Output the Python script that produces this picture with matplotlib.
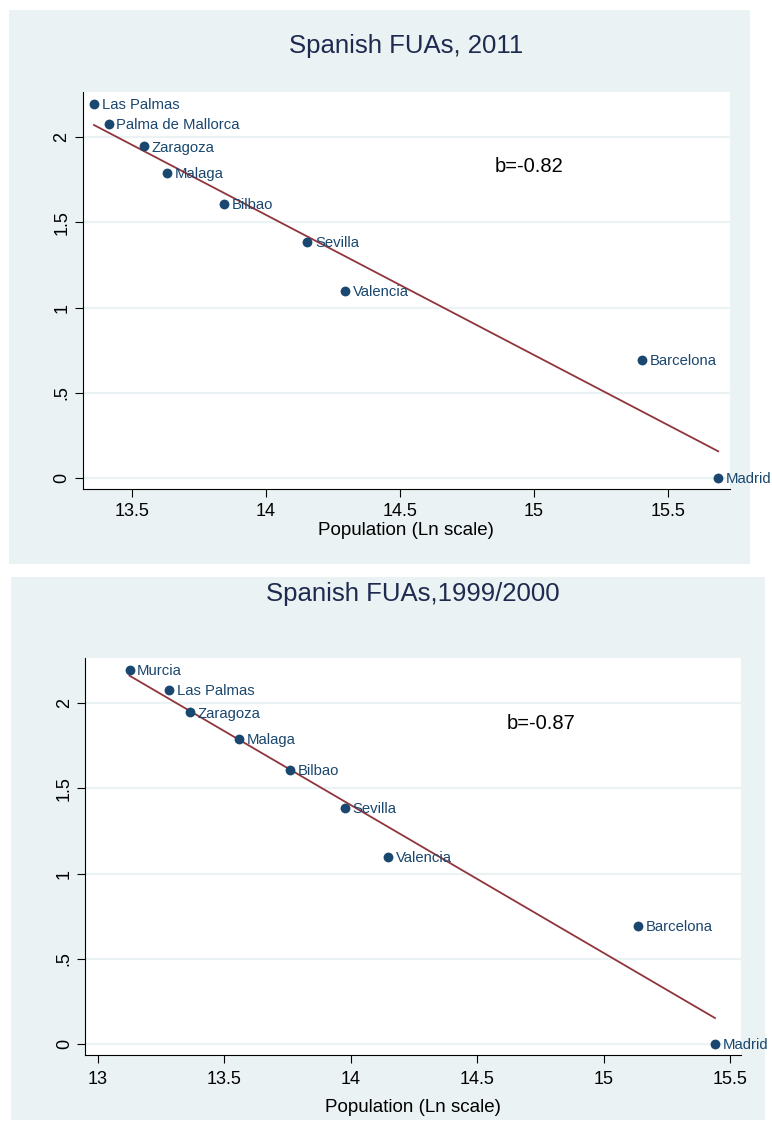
import matplotlib.pyplot as plt
import numpy as np
from matplotlib.patches import Rectangle

plt.rcParams['font.family'] = ['Liberation Sans', 'DejaVu Sans']

# 2011 data
cities_2011 = ["Madrid", "Barcelona", "Valencia", "Sevilla", "Bilbao",
               "Malaga", "Zaragoza", "Palma de Mallorca", "Las Palmas"]
lnpop_2011 = [15.687, 15.403, 14.295, 14.154, 13.843, 13.632, 13.545, 13.413, 13.358]
lnrank_2011 = [0.0, 0.693, 1.099, 1.386, 1.609, 1.792, 1.946, 2.079, 2.197]

# 1999/2000 data
cities_2000 = ["Madrid", "Barcelona", "Valencia", "Sevilla", "Bilbao",
               "Malaga", "Zaragoza", "Las Palmas", "Murcia"]
lnpop_2000 = [15.44, 15.136, 14.148, 13.978, 13.761, 13.559, 13.366, 13.283, 13.126]
lnrank_2000 = [0.0, 0.693, 1.099, 1.386, 1.609, 1.792, 1.946, 2.079, 2.197]

titles = ["Spanish FUAs, 2011", "Spanish FUAs,1999/2000"]
slopes = ["b=-0.82", "b=-0.87"]

W, H = 772, 1124
BG = "#eaf2f3"
NAVY = "#1a476f"
FIT = "#90353b"
TITLE_C = "#1e2a4f"

fig = plt.figure(figsize=(W / 100, H / 100), dpi=100, facecolor="white")


def px_box(x0, y0, x1, y1):
    # pixel box (from top-left) -> figure fraction
    return [x0 / W, 1 - y1 / H, (x1 - x0) / W, (y1 - y0) / H]


def panel(bg_box, ax_box, title, title_y, x, y, names, stat, stat_xy,
          xlim, xticks, xticklabels, tick_pad, label_pad):
    b = px_box(*bg_box)
    fig.patches.append(Rectangle((b[0], b[1]), b[2], b[3], transform=fig.transFigure,
                                 facecolor=BG, edgecolor="none", zorder=-5))
    ax = fig.add_axes(px_box(*ax_box))
    ax.set_facecolor("white")
    ax.set_xlim(*xlim)
    ax.set_ylim(-0.064, 2.265)

    # fitted line
    x = np.array(x)
    y = np.array(y)
    k, c = np.polyfit(x, y, 1)
    xs = np.array([x.min(), x.max()])
    ax.plot(xs, k * xs + c, color=FIT, lw=1.3, zorder=2)

    ax.scatter(x, y, s=50, color=NAVY, zorder=3, linewidths=0)
    for xi, yi, n in zip(x, y, names):
        ax.annotate(n, (xi, yi), xytext=(5.5, -1), textcoords="offset points",
                    va="center", ha="left", fontsize=10.7, color=NAVY,
                    annotation_clip=False)

    ax.text(stat_xy[0], stat_xy[1], stat, fontsize=14.5, color="black",
            ha="center", va="center")

    ax.set_yticks([0, 0.5, 1, 1.5, 2])
    ax.set_yticklabels(["0", ".5", "1", "1.5", "2"], rotation=90, va="center")
    ax.set_xticks(xticks)
    ax.set_xticklabels(xticklabels)
    ax.tick_params(labelsize=13, length=5.8, width=0.8)
    ax.tick_params(axis="x", pad=tick_pad)
    ax.tick_params(axis="y", pad=3)
    ax.grid(axis="y", color=BG, lw=1.6)
    ax.set_axisbelow(True)
    for s in ["top", "right"]:
        ax.spines[s].set_visible(False)
    ax.set_xlabel("Population (Ln scale)", fontsize=13.5, labelpad=label_pad)

    fig.text((ax_box[0] + ax_box[2]) / 2 / W + 0.0, 1 - title_y / H, title,
             fontsize=18.5, color=TITLE_C, ha="center", va="center")
    return ax


panel((9, 10, 750, 564), (82.7, 92, 730, 489), titles[0], 46,
      lnpop_2011, lnrank_2011, cities_2011, slopes[0], (14.98, 1.826),
      (13.316, 15.731), [13.5, 14, 14.5, 15, 15.5], ["13.5", "14", "14.5", "15", "15.5"],
      4.5, 1)

panel((11, 577, 765, 1120), (85, 658, 741, 1055), titles[1], 594,
      lnpop_2000, lnrank_2000, cities_2000, slopes[1], (14.753, 1.879),
      (12.95, 15.543), [13, 13.5, 14, 14.5, 15, 15.5],
      ["13", "13.5", "14", "14.5", "15", "15.5"], 6, 8)

plt.savefig("out.png", dpi=100, facecolor="white")
